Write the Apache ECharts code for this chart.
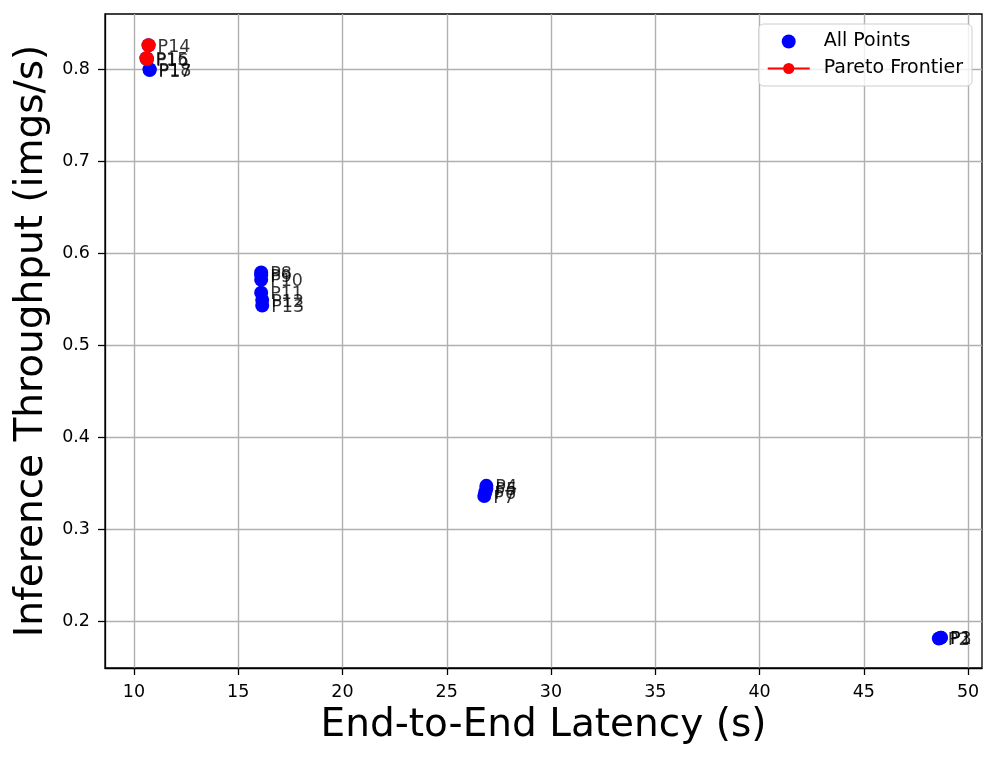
<!DOCTYPE html>
<html>
<head>
<meta charset="utf-8">
<script src="https://cdn.jsdelivr.net/npm/echarts@6/dist/echarts.min.js"></script>
<style>
  html, body { margin: 0; padding: 0; background: #fff; }
  #chart { width: 997px; height: 761px; }
</style>
</head>
<body>
<div id="chart"></div>
<script>
// point names and values
var pointNames = ['P1', 'P2', 'P3', 'P4', 'P5', 'P6', 'P7', 'P8', 'P9',
  'P10', 'P11', 'P12', 'P13', 'P14', 'P15', 'P16', 'P17', 'P18'];
var latency = [48.7, 48.6, 48.7, 26.9, 26.9, 26.85, 26.8, 16.1, 16.1,
  16.1, 16.1, 16.15, 16.15, 10.7, 10.6, 10.62, 10.75, 10.75];
var throughput = [0.182, 0.181, 0.182, 0.347, 0.344, 0.340, 0.336, 0.579, 0.576,
  0.571, 0.557, 0.549, 0.543, 0.826, 0.812, 0.811, 0.799, 0.800];
// pareto frontier points, in latency order
var paretoNames = ['P15', 'P16', 'P14'];

var xTicks = [10, 15, 20, 25, 30, 35, 40, 45, 50];
var yTicks = [0.2, 0.3, 0.4, 0.5, 0.6, 0.7, 0.8];

var allData = pointNames.map(function (n, i) {
  return { name: n, value: [latency[i], throughput[i]] };
});
var paretoData = paretoNames.map(function (n) {
  var i = pointNames.indexOf(n);
  return { name: n, value: [latency[i], throughput[i]] };
});

var myChart = echarts.init(document.getElementById('chart'));
var fontFam = 'DejaVu Sans';

myChart.setOption({
  animation: false,
  textStyle: { fontFamily: fontFam },
  grid: {
    left: 105, right: 15, top: 14, bottom: 93,
    show: true, borderColor: '#000', borderWidth: 1.3
  },
  legend: {
    data: ['All Points', 'Pareto Frontier'],
    orient: 'vertical',
    right: 25, top: 24,
    padding: [8, 9, 8, 8],
    itemGap: 8,
    itemWidth: 42, itemHeight: 14,
    borderColor: '#cccccc', borderWidth: 1, borderRadius: 5,
    backgroundColor: 'rgba(255,255,255,0.8)',
    textStyle: { fontSize: 19, color: '#000', fontFamily: fontFam, padding: [0, 0, 0, 9] }
  },
  xAxis: {
    type: 'value',
    min: 8.61, max: 50.67,
    name: 'End-to-End Latency (s)',
    nameLocation: 'middle',
    nameGap: 37,
    nameTextStyle: { fontSize: 39, color: '#000', fontFamily: fontFam },
    axisLine: { show: true, lineStyle: { color: '#000', width: 1.3 } },
    axisTick: { show: true, length: 7, customValues: xTicks, lineStyle: { color: '#000', width: 1.3 } },
    axisLabel: { customValues: xTicks, fontSize: 17.5, color: '#000', margin: 15 },
    splitLine: { show: true, lineStyle: { color: '#b0b0b0', width: 1.4 } }
  },
  yAxis: {
    type: 'value',
    min: 0.149, max: 0.86,
    name: 'Inference Throughput (imgs/s)',
    nameLocation: 'middle',
    nameGap: 54,
    nameTextStyle: { fontSize: 39, color: '#000', fontFamily: fontFam },
    axisLine: { show: true, lineStyle: { color: '#000', width: 1.3 } },
    axisTick: { show: true, length: 7, customValues: yTicks, lineStyle: { color: '#000', width: 1.3 } },
    axisLabel: { customValues: yTicks, fontSize: 17.5, color: '#000', margin: 15,
      formatter: function (v) { return v.toFixed(1); } },
    splitLine: { show: true, lineStyle: { color: '#b0b0b0', width: 1.4 } }
  },
  series: [
    {
      name: 'All Points',
      type: 'scatter',
      symbol: 'circle',
      symbolSize: 14,
      itemStyle: { color: '#0000ff', opacity: 1 },
      data: allData,
      z: 2
    },
    {
      name: 'Pareto Frontier',
      type: 'line',
      symbol: 'circle',
      symbolSize: 14,
      showAllSymbol: true,
      itemStyle: { color: '#ff0000' },
      lineStyle: { color: '#ff0000', width: 2.6 },
      data: paretoData,
      z: 3
    },
    {
      // point name labels, drawn on top like the annotations
      name: 'labels',
      type: 'scatter',
      symbolSize: 0,
      silent: true,
      data: allData,
      z: 5,
      label: {
        show: true,
        position: 'right',
        distance: 9,
        offset: [0, 2],
        formatter: '{b}',
        fontSize: 17.5,
        color: '#000',
        fontFamily: fontFam
      }
    }
  ]
});
</script>
</body>
</html>
